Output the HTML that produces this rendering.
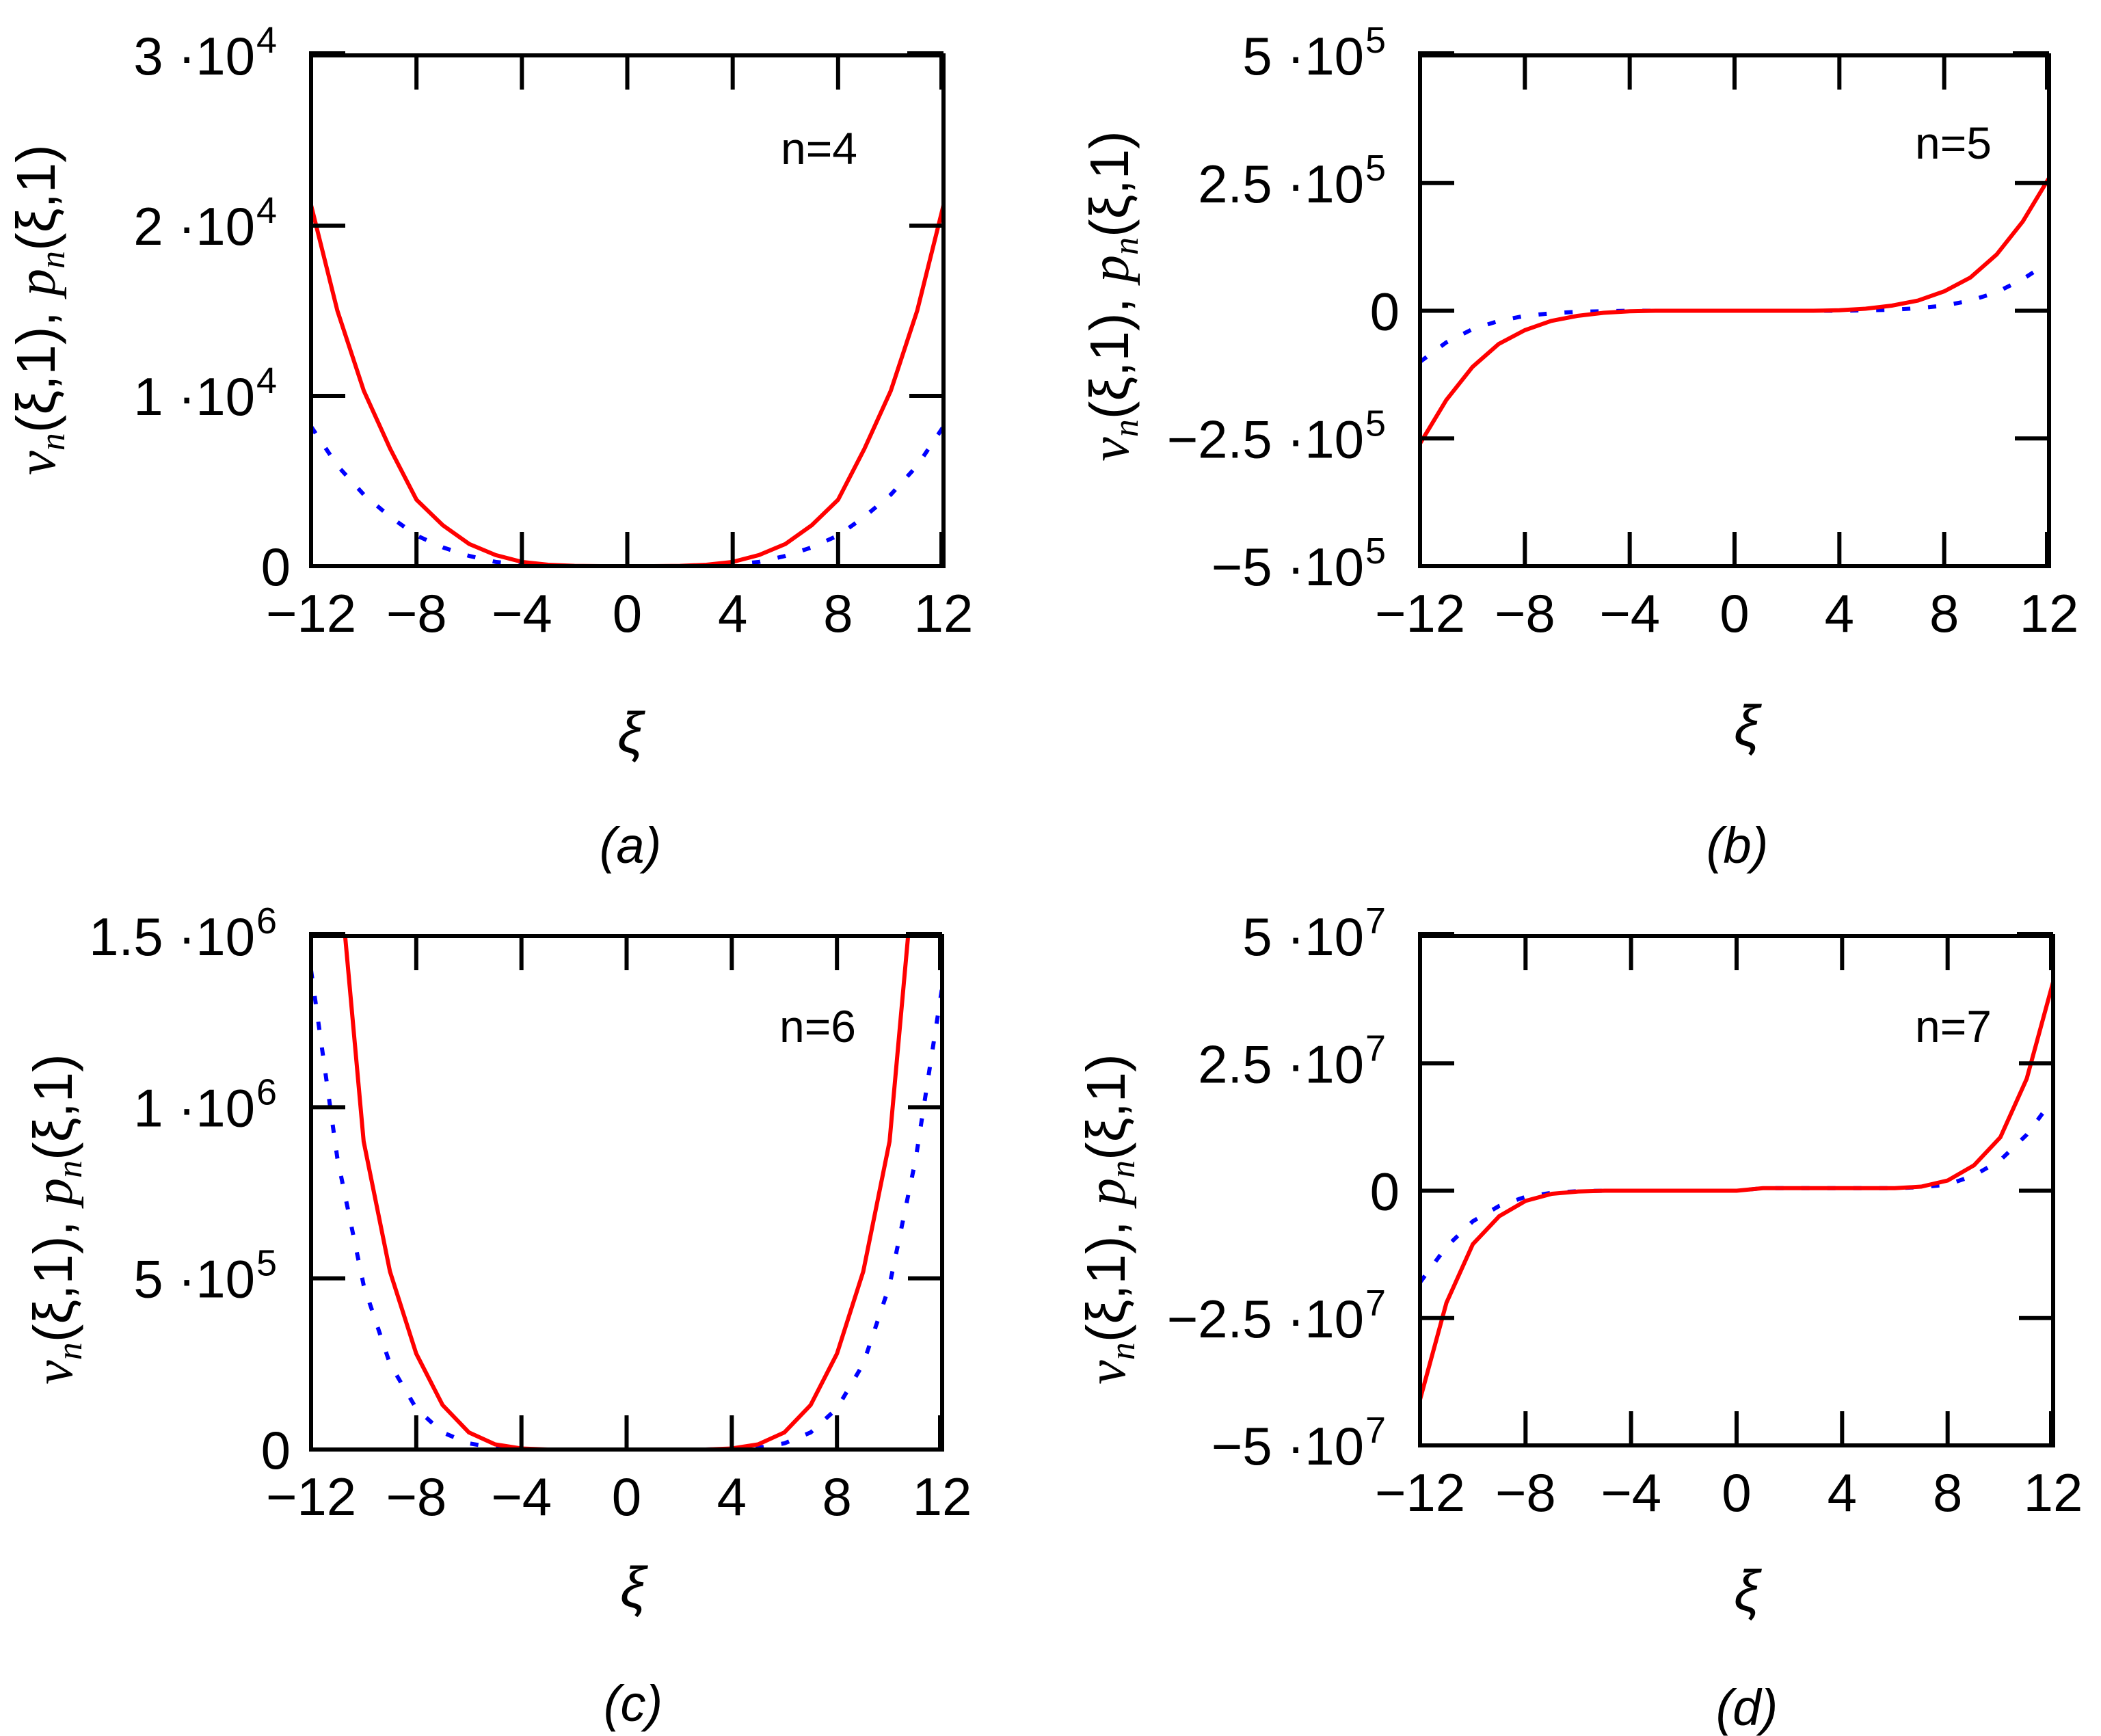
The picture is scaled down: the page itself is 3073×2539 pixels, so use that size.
<!DOCTYPE html>
<html><head><meta charset="utf-8"><style>
html,body{margin:0;padding:0;background:#fff;}
svg{display:block;}
text{font-family:"Liberation Sans",sans-serif;fill:#000;}
</style></head>
<body>
<svg id="fig" width="3073" height="2539" viewBox="0 0 3073 2539" xmlns="http://www.w3.org/2000/svg">
<rect width="3073" height="2539" fill="#fff"/>
</svg>
<script>
// shared x grid
const xs = [-12,-11,-10,-9,-8,-7,-6,-5,-4,-3,-2,-1,0,1,2,3,4,5,6,7,8,9,10,11,12];
const xTicks = [-12,-8,-4,0,4,8,12];
// panel a (n=4)
const redA  = [21200,15000,10300,6900,3900,2400,1300,650,250,80,15,0,0,0,15,80,250,650,1300,2400,3900,6900,10300,15000,21200];
const blueA = [8200,5900,4200,2900,1800,1100,600,250,80,20,0,0,0,0,0,20,80,250,600,1100,1800,2900,4200,5900,8200];
const yTicksA = [0,10000,20000,30000];
const yLabelsA = [["0",""],["1 ·10","4"],["2 ·10","4"],["3 ·10","4"]];
// panel b (n=5)
const redB  = [-260000,-175000,-110000,-65000,-38000,-20000,-10000,-4000,-1000,0,0,0,0,0,0,0,1000,4000,10000,20000,38000,65000,110000,175000,260000];
const blueB = [-100000,-62000,-36000,-20000,-10000,-5000,-2000,-1000,0,0,0,0,0,0,0,0,0,1000,2000,5000,10000,20000,36000,62000,95000];
const yTicksB = [-500000,-250000,0,250000,500000];
const yLabelsB = [["−5 ·10","5"],["−2.5 ·10","5"],["0",""],["2.5 ·10","5"],["5 ·10","5"]];
// panel c (n=6)
const redC  = [2700000,1750000,900000,520000,280000,130000,50000,15000,3000,0,0,0,0,0,0,0,3000,15000,50000,130000,280000,520000,900000,1750000,2700000];
const blueC = [1400000,850000,480000,250000,120000,50000,18000,5000,1000,0,0,0,0,0,0,0,1000,5000,18000,50000,120000,250000,480000,850000,1350000];
const yTicksC = [0,500000,1000000,1500000];
const yLabelsC = [["0",""],["5 ·10","5"],["1 ·10","6"],["1.5 ·10","6"]];
// panel d (n=7)
const redD  = [-41000000,-22000000,-10500000,-5000000,-2000000,-600000,-150000,0,0,0,0,0,0,500000,500000,500000,500000,500000,500000,800000,2000000,5000000,10500000,22000000,41000000];
const blueD = [-18000000,-11000000,-6000000,-3000000,-1200000,-400000,-100000,0,0,0,0,0,0,500000,500000,500000,500000,500000,500000,700000,1200000,3000000,6000000,11000000,18000000];
const yTicksD = [-50000000,-25000000,0,25000000,50000000];
const yLabelsD = [["−5 ·10","7"],["−2.5 ·10","7"],["0",""],["2.5 ·10","7"],["5 ·10","7"]];

const NS = "http://www.w3.org/2000/svg";
const fig = document.getElementById('fig');
function mk(tag, attrs, parent){
  const e = document.createElementNS(NS, tag);
  for (const k in attrs) e.setAttribute(k, attrs[k]);
  (parent||fig).appendChild(e);
  return e;
}

function panel(id, box, ymin, ymax, red, blue, yTicks, yLabels, nlabel, nPos, titlePos, xiPos, capPos, cap){
  const g = mk('g', {});
  
  
  const sx = v => box.x0 + (v - (-12)) / 24 * (box.x1 - box.x0);
  const sy = v => box.y1 - (v - ymin) / (ymax - ymin) * (box.y1 - box.y0);
  const clipId = 'clip-' + id;
  const cp = mk('clipPath', {id: clipId}, g);
  mk('rect', {x: box.x0, y: box.y0, width: box.x1 - box.x0, height: box.y1 - box.y0}, cp);
  // blue dotted series
  let d = xs.map((x,i) => (i ? 'L' : 'M') + sx(x).toFixed(1) + ' ' + sy(blue[i]).toFixed(1)).join(' ');
  const bl = mk('path', {d: d, fill: 'none', stroke: '#0000ff', 'stroke-width': 6, 'stroke-dasharray': '12 26', 'clip-path': 'url(#' + clipId + ')'}, g);
  
  
  // red solid series
  d = xs.map((x,i) => (i ? 'L' : 'M') + sx(x).toFixed(1) + ' ' + sy(red[i]).toFixed(1)).join(' ');
  const rl = mk('path', {d: d, fill: 'none', stroke: '#ff0000', 'stroke-width': 6, 'clip-path': 'url(#' + clipId + ')'}, g);
  
  
  // frame
  const fr = mk('rect', {x: box.x0, y: box.y0, width: box.x1 - box.x0, height: box.y1 - box.y0, fill: 'none', stroke: '#000', 'stroke-width': 6}, g);
  
  
  // x ticks and labels
  xTicks.forEach(t => {
    const x = sx(t);
    if (t > -12 && t < 12) {
      mk('line', {x1: x, y1: box.y0, x2: x, y2: box.y0 + 50, stroke: '#000', 'stroke-width': 6}, g);
      mk('line', {x1: x, y1: box.y1, x2: x, y2: box.y1 - 50, stroke: '#000', 'stroke-width': 6}, g);
    }
    const tx = mk('text', {x: x, y: box.y1 + 96, 'font-size': 78, 'text-anchor': 'middle'}, g);
    
    
    tx.textContent = (t < 0 ? '−' + (-t) : String(t));
  });
  // y ticks and labels
  yTicks.forEach((t,i) => {
    const y = sy(t);
    if (t > ymin && t < ymax) {
      mk('line', {x1: box.x0, y1: y, x2: box.x0 + 50, y2: y, stroke: '#000', 'stroke-width': 6}, g);
      mk('line', {x1: box.x1, y1: y, x2: box.x1 - 50, y2: y, stroke: '#000', 'stroke-width': 6}, g);
    }
    const lab = yLabels[i];
    const tx = mk('text', {x: box.x0 - (lab[1] ? 82 : 30), y: y + 28, 'font-size': 78, 'text-anchor': 'end'}, g);
    
    
    tx.textContent = lab[0];
    if (lab[1]) {
      const sp = mk('text', {x: box.x0 - 80, y: y - 4, 'font-size': 54, 'text-anchor': 'start'}, g);
      sp.textContent = lab[1];
    }
  });
  // corner blobs
  [[box.x0, box.y0],[box.x1 - 50, box.y0]].forEach(c => mk('rect', {x: c[0] - 3, y: c[1] - 6, width: 53, height: 9, fill: '#000'}, g));
  mk('rect', {x: box.x1 - 6, y: box.y0, width: 9, height: 50, fill: '#000'}, g);
  mk('rect', {x: box.x1 - 6, y: box.y1 - 50, width: 9, height: 50, fill: '#000'}, g);
  // n label
  const nl = mk('text', {x: nPos[0], y: nPos[1], 'font-size': 66, 'text-anchor': 'middle', fill: '#111'}, g);
  
  
  nl.textContent = nlabel;
  // y-axis title (rotated)
  const yt = mk('text', {x: 0, y: 0, 'font-size': 80, 'text-anchor': 'middle', transform: 'translate(' + titlePos[0] + ',' + titlePos[1] + ') rotate(-90)'}, g);
  
  
  yt.innerHTML = '<tspan font-style="italic" font-family="Liberation Serif">ν</tspan><tspan font-size="52" dy="14" font-style="italic" font-family="Liberation Serif">n</tspan><tspan dy="-14">(ξ,1),  </tspan><tspan font-style="italic" font-family="Liberation Serif">p</tspan><tspan font-size="52" dy="14" font-style="italic" font-family="Liberation Serif">n</tspan><tspan dy="-14">(ξ,1)</tspan>';
  // x-axis title
  const xt = mk('text', {x: xiPos[0], y: xiPos[1], 'font-size': 84, 'text-anchor': 'middle', 'font-style': 'italic', 'font-family': 'Liberation Serif'}, g);
  
  
  xt.textContent = 'ξ';
  // caption
  const ct = mk('text', {x: capPos[0], y: capPos[1], 'font-size': 74, 'text-anchor': 'middle', 'font-style': 'italic'}, g);
  
  
  ct.textContent = cap;
}

panel('a', {x0:455, x1:1380, y0:81, y1:828}, 0, 30000, redA, blueA, yTicksA, yLabelsA, 'n=4', [1198,240], [80,453], [922,1100], [922,1262], '(a)');
panel('b', {x0:2077, x1:2997, y0:81, y1:828}, -500000, 500000, redB, blueB, yTicksB, yLabelsB, 'n=5', [2857,232], [1650,433], [2555,1090], [2541,1262], '(b)');
panel('c', {x0:455, x1:1378, y0:1369, y1:2120}, 0, 1500000, redC, blueC, yTicksC, yLabelsC, 'n=6', [1196,1524], [105,1783], [926,2350], [926,2517], '(c)');
panel('d', {x0:2077, x1:3003, y0:1369, y1:2114}, -50000000, 50000000, redD, blueD, yTicksD, yLabelsD, 'n=7', [2857,1524], [1645,1783], [2555,2355], [2555,2523], '(d)');
</script>
</body></html>
